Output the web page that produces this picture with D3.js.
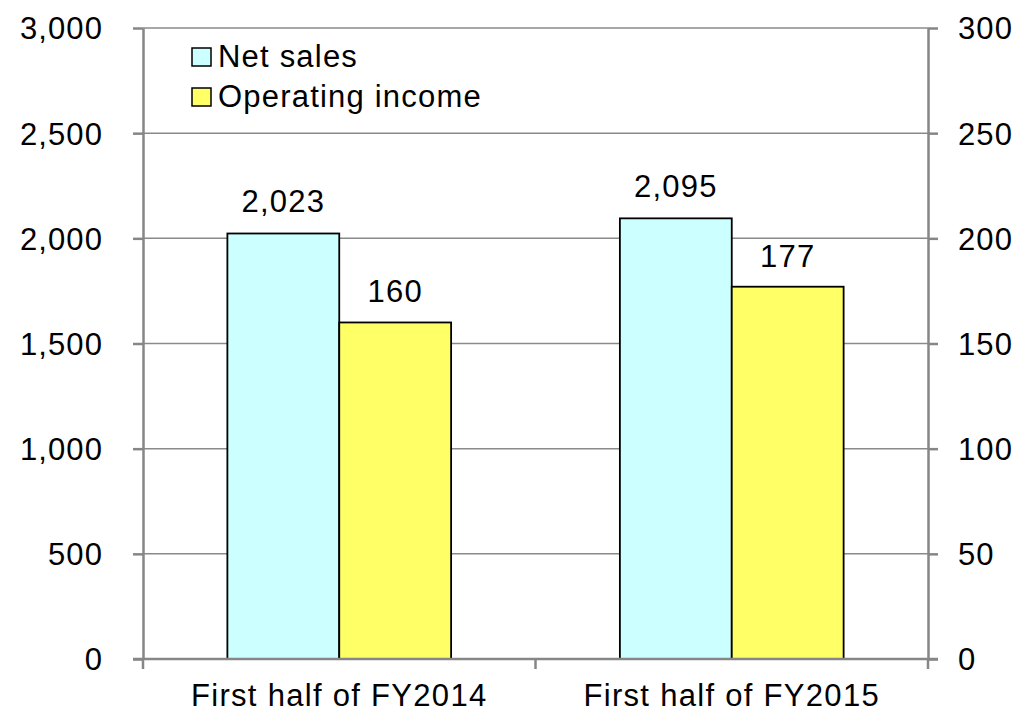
<!DOCTYPE html>
<html>
<head>
<meta charset="utf-8">
<script src="https://cdn.jsdelivr.net/npm/d3@7"></script>
<style>
  html, body { margin: 0; padding: 0; background: #fff; }
  svg { display: block; }
  text { font-family: "Liberation Sans", Arial, sans-serif; fill: #000; }
</style>
</head>
<body>
<svg id="chart" width="1018" height="714"></svg>
<script>
const categories = ["First half of FY2014", "First half of FY2015"];
const netSales = [2023, 2095];
const operatingIncome = [160, 177];
const seriesNames = ["Net sales", "Operating income"];
const leftTicks = [0, 500, 1000, 1500, 2000, 2500, 3000];
const rightTicks = [0, 50, 100, 150, 200, 250, 300];

const colors = { net: "#CCFFFF", op: "#FFFF66" };
const svg = d3.select("#chart");
const m = { left: 143, right: 928, top: 28, bottom: 659 };
const fmt = d3.format(",");
const FS = 31;

const x = d3.scaleBand().domain(categories).range([m.left, m.right]).paddingInner(0.43).paddingOuter(0.215);
const xs = d3.scaleBand().domain(["net", "op"]).range([0, x.bandwidth()]);
const yL = d3.scaleLinear().domain([0, 3000]).range([m.bottom, m.top]);
const yR = d3.scaleLinear().domain([0, 300]).range([m.bottom, m.top]);

// gridlines
svg.append("g").selectAll("line").data(leftTicks.filter(d => d > 0)).join("line")
  .attr("x1", m.left).attr("x2", m.right)
  .attr("y1", d => yL(d)).attr("y2", d => yL(d))
  .attr("stroke", "#8a8a8a").attr("stroke-width", 1.5);

// bars
const groups = svg.append("g").selectAll("g").data(categories).join("g")
  .attr("transform", d => `translate(${x(d)},0)`);
groups.append("rect")
  .attr("x", xs("net")).attr("width", xs.bandwidth())
  .attr("y", (d, i) => yL(netSales[i])).attr("height", (d, i) => m.bottom - yL(netSales[i]))
  .attr("fill", colors.net).attr("stroke", "#000").attr("stroke-width", 1.8);
groups.append("rect")
  .attr("x", xs("op")).attr("width", xs.bandwidth())
  .attr("y", (d, i) => yR(operatingIncome[i])).attr("height", (d, i) => m.bottom - yR(operatingIncome[i]))
  .attr("fill", colors.op).attr("stroke", "#000").attr("stroke-width", 1.8);

// data labels
groups.append("text")
  .attr("x", xs("net") + xs.bandwidth() / 2).attr("y", (d, i) => yL(netSales[i]) - 21)
  .attr("text-anchor", "middle").attr("font-size", FS).attr("letter-spacing", 1.2)
  .text((d, i) => fmt(netSales[i]));
groups.append("text")
  .attr("x", xs("op") + xs.bandwidth() / 2).attr("y", (d, i) => yR(operatingIncome[i]) - 20)
  .attr("text-anchor", "middle").attr("font-size", FS).attr("letter-spacing", 1.2)
  .text((d, i) => fmt(operatingIncome[i]));

// axes
const axisColor = "#868686";
function styleAxis(g) {
  g.select(".domain").attr("stroke", axisColor).attr("stroke-width", 2.5);
  g.selectAll(".tick line").attr("stroke", axisColor).attr("stroke-width", 2.5);
  g.selectAll(".tick text").attr("font-size", FS).attr("font-family", "Liberation Sans, Arial, sans-serif")
    .attr("fill", "#000").attr("letter-spacing", 1.1);
}
const gl = svg.append("g").attr("transform", `translate(${m.left},0)`)
  .call(d3.axisLeft(yL).tickValues(leftTicks).tickFormat(fmt).tickSize(10).tickPadding(30).tickSizeOuter(0));
styleAxis(gl);
gl.selectAll(".tick text").attr("dy", "0.35em");

const gr = svg.append("g").attr("transform", `translate(${m.right},0)`)
  .call(d3.axisRight(yR).tickValues(rightTicks).tickFormat(fmt).tickSize(10).tickPadding(20).tickSizeOuter(0));
styleAxis(gr);
gr.selectAll(".tick text").attr("dy", "0.35em");

// bottom axis with ticks at category boundaries
const boundaries = [m.left, (x(categories[0]) + x.bandwidth() + x(categories[1])) / 2, m.right];
svg.append("line").attr("x1", m.left - 10).attr("x2", m.right + 10)
  .attr("y1", m.bottom).attr("y2", m.bottom).attr("stroke", axisColor).attr("stroke-width", 2.5);
svg.append("g").selectAll("line").data(boundaries).join("line")
  .attr("x1", d => d).attr("x2", d => d).attr("y1", m.bottom).attr("y2", m.bottom + 10)
  .attr("stroke", axisColor).attr("stroke-width", 2.5);
svg.append("g").selectAll("text").data(categories).join("text")
  .attr("x", d => x(d) + x.bandwidth() / 2).attr("y", 706)
  .attr("text-anchor", "middle").attr("font-size", FS).attr("letter-spacing", 1.3)
  .text(d => d);

// legend
const legend = svg.append("g").attr("transform", "translate(192,48)");
const li = legend.selectAll("g").data(seriesNames).join("g")
  .attr("transform", (d, i) => `translate(0,${i * 40})`);
li.append("rect").attr("width", 19).attr("height", 18)
  .attr("fill", (d, i) => i === 0 ? colors.net : colors.op)
  .attr("stroke", "#000").attr("stroke-width", 1.5);
li.append("text").attr("x", 26).attr("y", 19).attr("font-size", FS).attr("letter-spacing", 1.2)
  .text(d => d);
</script>
</body>
</html>
